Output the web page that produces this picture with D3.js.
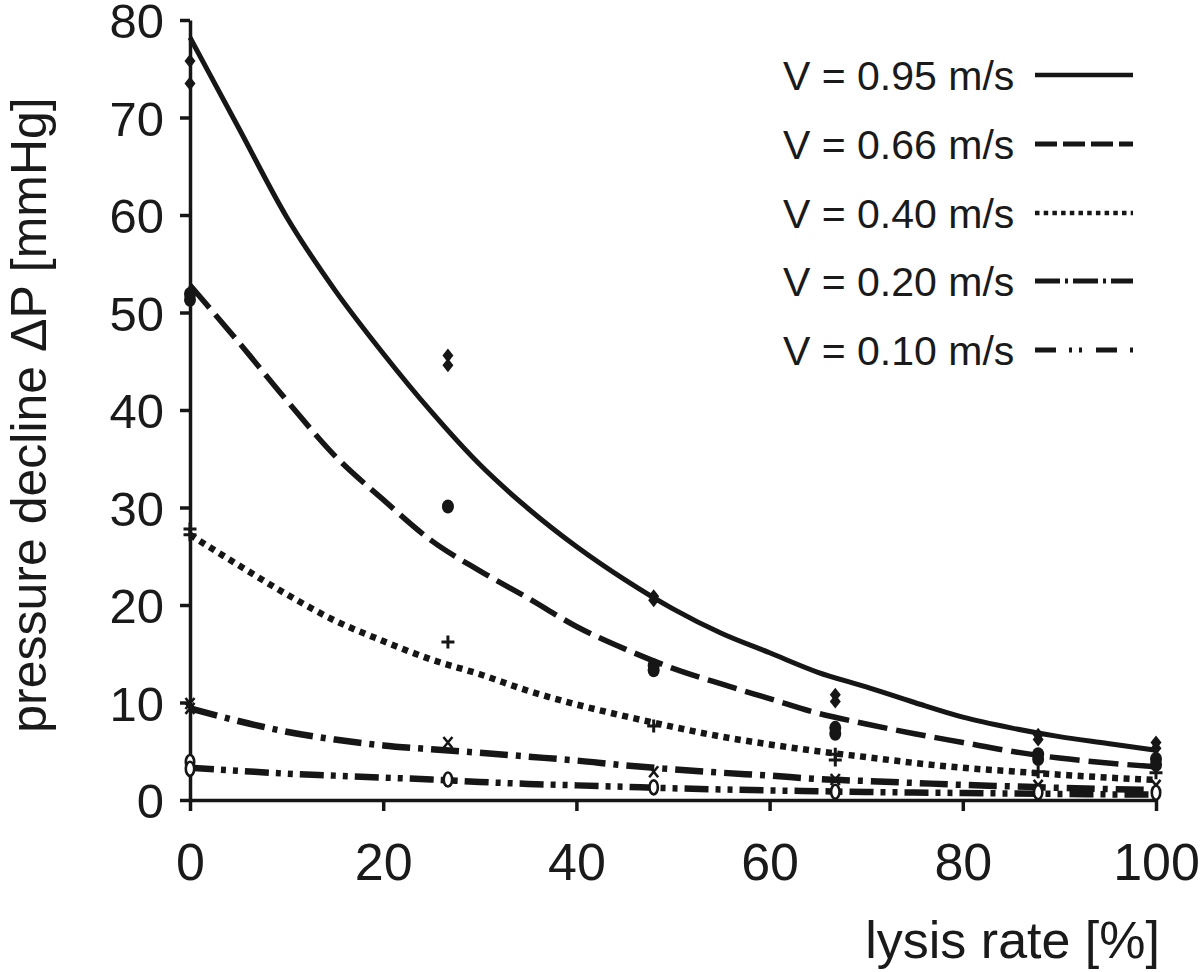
<!DOCTYPE html>
<html>
<head>
<meta charset="utf-8">
<script src="https://cdn.jsdelivr.net/npm/d3@7"></script>
<style>
  html, body { margin: 0; padding: 0; background: #fff; }
  svg { display: block; }
  text { font-family: "Liberation Sans", Arial, sans-serif; fill: #1a1a1a; }
</style>
</head>
<body>
<svg id="chart" width="1200" height="972"></svg>
<script>
// ---- data ----
const xTicks = [0, 20, 40, 60, 80, 100];
const yTicks = [0, 10, 20, 30, 40, 50, 60, 70, 80];
const seriesNames = ["V = 0.95 m/s", "V = 0.66 m/s", "V = 0.40 m/s", "V = 0.20 m/s", "V = 0.10 m/s"];

// fitted-curve points
const curveX   = [0, 5, 10, 15, 20, 25, 30, 35, 40, 45, 50, 55, 60, 65, 70, 75, 80, 85, 90, 95, 100];
const curve095 = [78.2, 69.0, 59.8, 52.3, 45.8, 39.8, 34.4, 29.9, 26.0, 22.6, 19.6, 17.1, 15.1, 13.1, 11.6, 10.0, 8.5, 7.4, 6.5, 5.8, 5.1];
const curve066 = [52.8, 47.0, 41.0, 35.3, 30.8, 26.6, 23.5, 20.7, 17.8, 15.5, 13.5, 11.9, 10.4, 8.9, 7.8, 6.8, 5.9, 5.0, 4.3, 3.8, 3.4];
const curve040 = [27.2, 24.1, 21.1, 18.4, 16.3, 14.4, 12.9, 11.2, 9.8, 8.6, 7.5, 6.5, 5.7, 5.0, 4.4, 3.8, 3.3, 2.95, 2.6, 2.3, 2.05];
const curve020 = [9.4, 8.1, 7.0, 6.2, 5.6, 5.2, 4.85, 4.45, 4.05, 3.55, 3.15, 2.8, 2.5, 2.15, 1.95, 1.75, 1.55, 1.4, 1.25, 1.12, 1.03];
const curve010 = [3.3, 3.0, 2.7, 2.5, 2.3, 2.1, 1.85, 1.65, 1.5, 1.35, 1.2, 1.08, 0.98, 0.9, 0.82, 0.77, 0.72, 0.67, 0.62, 0.58, 0.55];

// measured points (lysis rate, pressure decline)
const pts095x = [0, 0, 26.7, 26.7, 48, 48, 66.8, 66.8, 87.8, 87.8, 100, 100];
const pts095y = [75.8, 73.5, 45.6, 44.6, 20.9, 20.5, 10.8, 10.1, 6.7, 6.2, 5.9, 5.3];
const pts066x = [0, 0, 26.7, 48, 48, 66.8, 66.8, 87.8, 87.8, 100, 100];
const pts066y = [51.9, 51.3, 30.1, 13.8, 13.3, 7.4, 6.8, 4.7, 4.2, 4.2, 3.6];
const pts040x = [0, 0, 26.7, 48, 66.8, 66.8, 87.8, 100];
const pts040y = [27.8, 27.2, 16.2, 7.6, 4.7, 4.1, 2.9, 2.8];
const pts020x = [0, 0, 26.7, 48, 66.8, 87.8, 100];
const pts020y = [9.9, 9.4, 5.9, 2.9, 2.1, 1.5, 1.5];
const pts010x = [0, 0, 26.7, 48, 66.8, 87.8, 100];
const pts010y = [3.9, 3.2, 2.1, 1.3, 0.85, 0.8, 0.75];

// ---- layout ----
const svg = d3.select("#chart");
const x = d3.scaleLinear().domain([0, 100]).range([190, 1156]);
const y = d3.scaleLinear().domain([0, 80]).range([800, 20]);
const ink = "#161616";

const curves = [curve095, curve066, curve040, curve020, curve010];
const styles = [
  { dash: null,              w: 5,   legendDash: null,              lw: 4.5 },
  { dash: "30 9",            w: 5.5, legendDash: "22 6",            lw: 5 },
  { dash: "6 5.5",           w: 6.5, legendDash: "4.5 4.2",         lw: 4.5 },
  { dash: "28 8 5 8",        w: 6.5, legendDash: "25 5 3 5",        lw: 5 },
  { dash: "24 7 5 7 5 7",    w: 6.5, legendDash: "21 13 3 7 3 14",  lw: 5 }
];

// curves
const line = d3.line().x(d => x(d[0])).y(d => y(d[1])).curve(d3.curveMonotoneX);
curves.forEach((c, i) => {
  const data = curveX.map((xv, j) => [xv, c[j]]);
  svg.append("path")
    .attr("d", line(data))
    .attr("fill", "none")
    .attr("stroke", ink)
    .attr("stroke-width", styles[i].w)
    .attr("stroke-dasharray", styles[i].dash)
    .attr("stroke-linejoin", "round");
});

// axes
const yAxis = d3.axisLeft(y).tickValues(yTicks).tickSize(10).tickSizeOuter(0).tickPadding(16);
const xAxis = d3.axisBottom(x).tickValues(xTicks).tickSize(11).tickSizeOuter(0).tickPadding(32);

const gy = svg.append("g").attr("transform", "translate(190,0)").call(yAxis);
const gx = svg.append("g").attr("transform", "translate(0,800)").call(xAxis);
[gx, gy].forEach(g => {
  g.select(".domain").attr("stroke", ink).attr("stroke-width", 3.5);
  g.selectAll(".tick line").attr("stroke", ink).attr("stroke-width", 3.5);
  g.selectAll(".tick text").attr("fill", ink)
    .style("font-family", '"Liberation Sans", Arial, sans-serif');
});
gy.selectAll(".tick text").style("font-size", "49px").attr("dy", "0.36em");
gx.selectAll(".tick text").style("font-size", "52px").attr("dy", "0.71em");

// markers
const gm = svg.append("g");
function diamonds(xs, ys) {
  xs.forEach((xv, i) => {
    const cx = x(xv), cy = y(ys[i]);
    const p = d3.path();
    p.moveTo(cx, cy - 7); p.lineTo(cx + 5.5, cy); p.lineTo(cx, cy + 7); p.lineTo(cx - 5.5, cy); p.closePath();
    gm.append("path").attr("d", p.toString()).attr("fill", ink);
  });
}
function dots(xs, ys) {
  xs.forEach((xv, i) => {
    gm.append("ellipse").attr("cx", x(xv)).attr("cy", y(ys[i]))
      .attr("rx", 6).attr("ry", 7).attr("fill", ink);
  });
}
function pluses(xs, ys) {
  xs.forEach((xv, i) => {
    const cx = x(xv), cy = y(ys[i]);
    const p = d3.path();
    p.moveTo(cx - 6.5, cy); p.lineTo(cx + 6.5, cy);
    p.moveTo(cx, cy - 6.5); p.lineTo(cx, cy + 6.5);
    gm.append("path").attr("d", p.toString()).attr("stroke", ink).attr("stroke-width", 3).attr("fill", "none");
  });
}
function crosses(xs, ys) {
  xs.forEach((xv, i) => {
    const cx = x(xv), cy = y(ys[i]);
    const p = d3.path();
    p.moveTo(cx - 4.5, cy - 5.5); p.lineTo(cx + 4.5, cy + 5.5);
    p.moveTo(cx + 4.5, cy - 5.5); p.lineTo(cx - 4.5, cy + 5.5);
    gm.append("path").attr("d", p.toString()).attr("stroke", ink).attr("stroke-width", 2.6).attr("fill", "none");
  });
}
function rings(xs, ys) {
  xs.forEach((xv, i) => {
    gm.append("ellipse").attr("cx", x(xv)).attr("cy", y(ys[i]))
      .attr("rx", 4.2).attr("ry", 7).attr("fill", "#fff").attr("stroke", ink).attr("stroke-width", 2.6);
  });
}
diamonds(pts095x, pts095y);
dots(pts066x, pts066y);
pluses(pts040x, pts040y);
crosses(pts020x, pts020y);
rings(pts010x, pts010y);

// axis titles
svg.append("text")
  .attr("x", 1160).attr("y", 958)
  .attr("text-anchor", "end")
  .style("font-size", "52px")
  .text("lysis rate [%]");

svg.append("text")
  .attr("transform", "translate(46,415) rotate(-90)")
  .attr("text-anchor", "middle")
  .style("font-size", "50px")
  .text("pressure decline \u0394P [mmHg]");

// legend
const legendY = [75, 144, 213, 281, 350];
const lg = svg.append("g");
seriesNames.forEach((name, i) => {
  lg.append("text")
    .attr("x", 783).attr("y", legendY[i] + 15)
    .style("font-size", "41px")
    .text(name);
  lg.append("line")
    .attr("x1", 1035).attr("x2", 1133)
    .attr("y1", legendY[i]).attr("y2", legendY[i])
    .attr("stroke", ink)
    .attr("stroke-width", styles[i].lw)
    .attr("stroke-dasharray", styles[i].legendDash);
});
</script>
</body>
</html>
